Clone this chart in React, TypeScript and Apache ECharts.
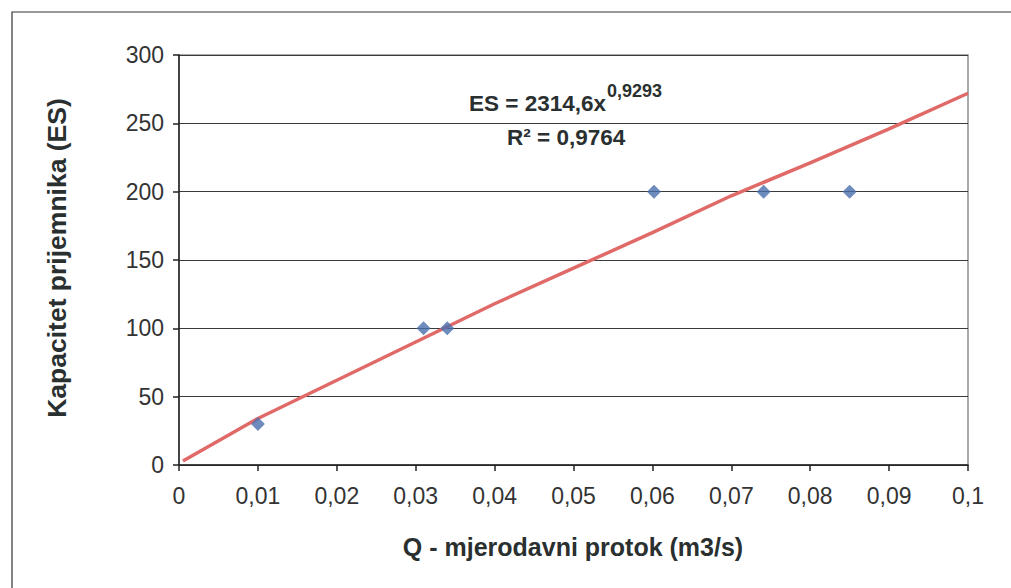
import React, { useEffect, useRef } from "react";
import * as echarts from "echarts";

// Measured points: Q (m3/s) vs ES
const pointQ = [0.01, 0.031, 0.034, 0.0602, 0.0741, 0.085];
const pointES = [30, 100, 100, 200, 200, 200];

// Trendline
const trendQ = [0.0005, 0.01, 0.02, 0.03, 0.04, 0.05, 0.06, 0.07, 0.08, 0.09, 0.1];
const trendES = [3, 34, 62, 90, 118, 144, 170, 197, 221, 246, 272];

const yTicks = [0, 50, 100, 150, 200, 250, 300];
const xTitle = "Q - mjerodavni protok (m3/s)";
const yTitle = "Kapacitet prijemnika (ES)";
const eqMain = "ES = 2314,6x";
const eqSup = "0,9293";
const r2Text = "R² = 0,9764";

const FONT = "Arial, 'Liberation Sans', sans-serif";

export default function App() {
  const ref = useRef<HTMLDivElement>(null);
  useEffect(() => {
    if (!ref.current) return;
    const chart = echarts.init(ref.current, undefined, { renderer: "svg" });
    const fmtX = (v: number) => {
      const r = Math.round(v * 100) / 100;
      return String(r).replace(".", ",");
    };
    chart.setOption({
      animation: false,
      backgroundColor: "#ffffff",
      textStyle: { fontFamily: FONT },
      grid: {
        left: 179,
        top: 55,
        width: 789,
        height: 410,
        show: true,
        borderColor: "#8a8f8f",
        borderWidth: 1.5,
        backgroundColor: "transparent",
      },
      xAxis: {
        type: "value",
        min: 0,
        max: 0.1,
        interval: 0.01,
        axisLine: { show: true, onZero: false, lineStyle: { color: "#222", width: 1.5 } },
        axisTick: { show: true, inside: false, length: 6, lineStyle: { color: "#222", width: 1.5 } },
        axisLabel: { fontSize: 23, color: "#333", margin: 19, fontFamily: FONT, formatter: fmtX },
        splitLine: { show: false },
      },
      yAxis: {
        type: "value",
        min: yTicks[0],
        max: yTicks[yTicks.length - 1],
        interval: 50,
        axisLine: { show: true, onZero: false, lineStyle: { color: "#222", width: 1.5 } },
        axisTick: { show: true, inside: false, length: 6, lineStyle: { color: "#222", width: 1.5 } },
        axisLabel: { fontSize: 23, color: "#333", margin: 15, fontFamily: FONT },
        splitLine: { show: true, lineStyle: { color: "#3a3a3a", width: 1 } },
      },
      series: [
        {
          type: "line",
          data: trendQ.map((q, i) => [q, trendES[i]]),
          showSymbol: false,
          symbol: "none",
          lineStyle: { color: "#E06A68", width: 3.5 },
          z: 2,
        },
        {
          type: "scatter",
          data: pointQ.map((q, i) => [q, pointES[i]]),
          symbol: "diamond",
          symbolSize: 14,
          itemStyle: { color: "#4A6EAD" },
          z: 3,
        },
      ],
      graphic: [
        {
          type: "rect",
          shape: { x: 12, y: 12, width: 1100, height: 700 },
          style: { fill: "none", stroke: "#333", lineWidth: 1.2 },
          silent: true,
          z: -10,
        },
        {
          type: "text",
          x: 573,
          y: 547,
          style: {
            text: xTitle,
            fontSize: 25,
            fontWeight: "bold",
            fontFamily: FONT,
            fill: "#2a2f2f",
            align: "center",
            verticalAlign: "middle",
          },
        },
        {
          type: "text",
          x: 57,
          y: 258,
          rotation: Math.PI / 2,
          style: {
            text: yTitle,
            fontSize: 26.5,
            fontWeight: "bold",
            fontFamily: FONT,
            fill: "#2a2f2f",
            align: "center",
            verticalAlign: "middle",
          },
        },
        {
          type: "text",
          x: 469,
          y: 103,
          style: {
            text: eqMain,
            fontSize: 22.5,
            fontWeight: "bold",
            fontFamily: FONT,
            fill: "#2a2f2f",
            align: "left",
            verticalAlign: "middle",
          },
        },
        {
          type: "text",
          x: 607,
          y: 91,
          style: {
            text: eqSup,
            fontSize: 18,
            fontWeight: "bold",
            fontFamily: FONT,
            fill: "#2a2f2f",
            align: "left",
            verticalAlign: "middle",
          },
        },
        {
          type: "text",
          x: 507,
          y: 137,
          style: {
            text: r2Text,
            fontSize: 22.5,
            fontWeight: "bold",
            fontFamily: FONT,
            fill: "#2a2f2f",
            align: "left",
            verticalAlign: "middle",
          },
        },
      ],
    });
    return () => chart.dispose();
  }, []);
  return (
    <div
      ref={ref}
      style={{ position: "fixed", left: 0, top: 0, width: 1011, height: 588, background: "#fff" }}
    />
  );
}
